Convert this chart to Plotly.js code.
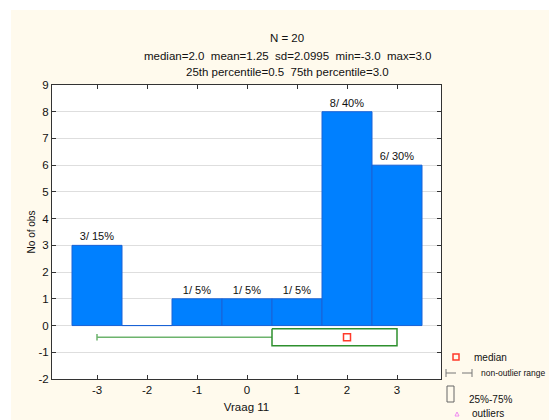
<!DOCTYPE html>
<html><head><meta charset="utf-8">
<script src="https://cdn.plot.ly/plotly-3.0.1.min.js"></script>
<style>
html,body{margin:0;padding:0;background:#ffffff;}
#chart{position:absolute;left:11px;top:10px;width:538px;height:410px;overflow:hidden;}
</style>
</head><body><div id="chart"></div>
<script>
// ---- data ----
const categories = [-3, -2, -1, 0, 1, 2, 3];
const counts = [3, 0, 1, 1, 1, 8, 6];
const nTotal = 20;
const boxMedian = [2.0];
const boxQ1 = [0.5];
const boxQ3 = [3.0];
const rangeMin = [-3.0];
const rangeMax = [3.0];
const titleText = "N = 20";
const statsLine1 = ["median=2.0", "mean=1.25", "sd=2.0995", "min=-3.0", "max=3.0"];
const statsLine2 = ["25th percentile=0.5", "75th percentile=3.0"];
const yTicks = [-2, -1, 0, 1, 2, 3, 4, 5, 6, 7, 8, 9];
const legendLabels = ["median", "non-outlier range", "25%-75%", "outliers"];

// ---- helpers (page pixel -> paper coords) ----
const PL = 52, PR = 441, PT = 85, PB = 379;
const px = X => (X - PL) / (PR - PL);
const py = Y => 1 - (Y - PT) / (PB - PT);
const SP = "\u00a0\u00a0";
const FONT = "Liberation Sans, Arial, sans-serif";

const barLabels = counts.map(c => c > 0 ? `${c}/ ${Math.round(c / nTotal * 100)}%` : "");

const boxY = -0.44, boxH = 0.32, capH = 0.12;

const traces = [
  {
    type: "bar", x: categories, y: counts, width: 1,
    marker: {color: "#0080FF", line: {color: "#1A62D6", width: 1}},
    text: barLabels, textposition: "outside", cliponaxis: false,
    textfont: {family: FONT, size: 11, color: "#111"},
    hoverinfo: "skip"
  },
  { // whisker
    type: "scatter", mode: "lines",
    x: [rangeMin[0], boxQ1[0]], y: [boxY, boxY],
    line: {color: "#6DB36D", width: 1.5}, hoverinfo: "skip"
  },
  { // whisker cap
    type: "scatter", mode: "lines",
    x: [rangeMin[0], rangeMin[0]], y: [boxY - capH, boxY + capH],
    line: {color: "#6DB36D", width: 1.5}, hoverinfo: "skip"
  },
  { // box
    type: "scatter", mode: "lines",
    x: [boxQ1[0], boxQ3[0], boxQ3[0], boxQ1[0], boxQ1[0]],
    y: [boxY + boxH, boxY + boxH, boxY - boxH, boxY - boxH, boxY + boxH],
    fill: "toself", fillcolor: "#FFFFFF",
    line: {color: "#2E902E", width: 1.5}, hoverinfo: "skip"
  },
  { // median
    type: "scatter", mode: "markers",
    x: boxMedian, y: [boxY],
    marker: {symbol: "square-open", size: 7, color: "#FF3A2A", line: {width: 1.5}},
    hoverinfo: "skip"
  }
];

const legendColor = "#777";
const shapes = [
  {type: "rect", xref: "paper", yref: "paper", x0: px(453), x1: px(459), y0: py(360), y1: py(354),
   line: {color: "#FF3A2A", width: 1.5}},
  {type: "line", xref: "paper", yref: "paper", x0: px(446), x1: px(446), y0: py(369), y1: py(377), line: {color: legendColor, width: 1}},
  {type: "line", xref: "paper", yref: "paper", x0: px(446), x1: px(456), y0: py(373), y1: py(373), line: {color: legendColor, width: 1}},
  {type: "line", xref: "paper", yref: "paper", x0: px(462), x1: px(472), y0: py(373), y1: py(373), line: {color: legendColor, width: 1}},
  {type: "line", xref: "paper", yref: "paper", x0: px(472), x1: px(472), y0: py(369), y1: py(377), line: {color: legendColor, width: 1}},
  {type: "rect", xref: "paper", yref: "paper", x0: px(447), x1: px(454), y0: py(402), y1: py(386),
   line: {color: "#666", width: 1}},
  {type: "path", xref: "paper", yref: "paper",
   path: `M ${px(455)} ${py(416)} L ${px(459)} ${py(416)} L ${px(457)} ${py(412)} Z`,
   line: {color: "#F08CF0", width: 1}}
];

const annText = (t, X, Y, size, anchor) => ({
  text: t, xref: "paper", yref: "paper", x: px(X), y: py(Y),
  xanchor: anchor || "left", yanchor: "middle", showarrow: false,
  font: {family: FONT, size: size, color: "#111"}
});

const annotations = [
  annText(statsLine1.join(SP), 287, 56, 11.5, "center"),
  annText(statsLine2.join(SP), 287, 72, 11.5, "center"),
  annText(legendLabels[0], 472, 357, 10),
  annText(legendLabels[1], 479, 373, 8.5),
  annText(legendLabels[2], 467, 399, 10),
  annText(legendLabels[3], 470, 413, 10)
];

const layout = {
  width: 538, height: 410,
  paper_bgcolor: "#FFFAED", plot_bgcolor: "#FFFFFF",
  margin: {l: 41, r: 108, t: 75, b: 41},
  showlegend: false,
  title: {text: titleText, xref: "container", yref: "container",
          x: (287 - 11) / 538, y: 1 - (38 - 10) / 410, xanchor: "center", yanchor: "middle",
          font: {family: FONT, size: 11.5, color: "#111"}},
  font: {family: FONT, size: 11, color: "#111"},
  xaxis: {
    range: [-3.9, 3.88], tickvals: categories, ticktext: categories.map(String),
    showgrid: false, zeroline: false,
    ticks: "inside", ticklen: 4, tickcolor: "#333", mirror: "ticks",
    showline: true, linecolor: "#333", linewidth: 1,
    tickfont: {family: FONT, size: 11.5, color: "#111"},
    title: {text: "Vraag 11", standoff: 8, font: {family: FONT, size: 11.5, color: "#111"}},
    fixedrange: true
  },
  yaxis: {
    range: [-2, 9], tickvals: yTicks, ticktext: yTicks.map(String),
    showgrid: true, gridcolor: "#DEDEDE", gridwidth: 1,
    zeroline: false,
    ticks: "inside", ticklen: 4, tickcolor: "#333", mirror: "ticks",
    showline: true, linecolor: "#333", linewidth: 1,
    tickfont: {family: FONT, size: 11.5, color: "#111"},
    title: {text: "No of obs", standoff: 0, font: {family: FONT, size: 10, color: "#111"}},
    fixedrange: true
  },
  shapes: shapes,
  annotations: annotations,
  bargap: 0
};

Plotly.newPlot("chart", traces, layout, {displayModeBar: false, staticPlot: true});
</script>
</body></html>
